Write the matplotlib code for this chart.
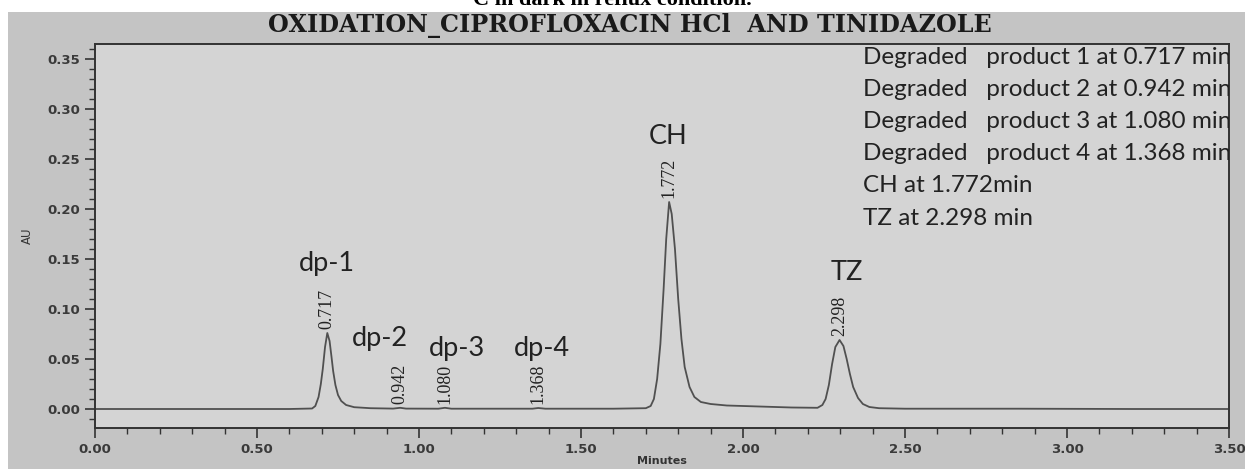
import numpy as np
import matplotlib.pyplot as plt
from matplotlib.patches import Rectangle
from matplotlib.ticker import MultipleLocator

# chromatogram trace (minutes, AU)
time_min = [0.00, 0.30, 0.60, 0.67, 0.680, 0.690, 0.697, 0.703, 0.710, 0.717,
            0.724, 0.730, 0.735, 0.742, 0.750, 0.760, 0.775, 0.80, 0.85, 0.92,
            0.942, 0.96, 1.06, 1.080, 1.10, 1.35, 1.368, 1.39, 1.60, 1.70,
            1.715, 1.725, 1.735, 1.745, 1.755, 1.763, 1.772, 1.780, 1.790, 1.800,
            1.810, 1.820, 1.835, 1.85, 1.87, 1.90, 1.95, 2.05, 2.15, 2.23,
            2.245, 2.255, 2.265, 2.275, 2.285, 2.298, 2.310, 2.320, 2.330, 2.340,
            2.355, 2.370, 2.39, 2.42, 2.50, 2.75, 2.85, 3.20, 3.50]
au = [0.0, 0.0, 0.0, 0.0005, 0.003, 0.012, 0.025, 0.040, 0.062, 0.076,
      0.068, 0.052, 0.038, 0.024, 0.014, 0.008, 0.004, 0.0018, 0.0008, 0.0004,
      0.0012, 0.0004, 0.0003, 0.0012, 0.0003, 0.0003, 0.0010, 0.0003, 0.0003, 0.0008,
      0.003, 0.010, 0.030, 0.065, 0.120, 0.170, 0.207, 0.195, 0.160, 0.110,
      0.070, 0.042, 0.022, 0.012, 0.007, 0.005, 0.0035, 0.0025, 0.0015, 0.0012,
      0.004, 0.010, 0.024, 0.045, 0.062, 0.069, 0.063, 0.050, 0.035, 0.022,
      0.011, 0.005, 0.002, 0.0008, 0.0003, 0.0003, 0.0003, 0.0, 0.0]

# peak labels
peak_rt = [0.717, 0.942, 1.080, 1.368, 1.772, 2.298]
peak_au = [0.076, 0.0012, 0.0012, 0.0010, 0.207, 0.069]
peak_names = ["dp-1", "dp-2", "dp-3", "dp-4", "CH", "TZ"]
# where the names sit (minutes, AU)
name_x = [0.716, 0.880, 1.117, 1.380, 1.769, 2.321]
name_y = [0.146, 0.071, 0.061, 0.061, 0.272, 0.136]

legend_lines = ["Degraded   product 1 at 0.717 min",
                "Degraded   product 2 at 0.942 min",
                "Degraded   product 3 at 1.080 min",
                "Degraded   product 4 at 1.368 min",
                "CH at 1.772min",
                "TZ at 2.298 min"]

W, H = 1245, 469
fig = plt.figure(figsize=(W / 100, H / 100), dpi=100)
fig.patch.set_facecolor("white")
fig.patches.append(Rectangle((8 / W, 0), 1, (H - 12) / H, transform=fig.transFigure,
                             facecolor="#c4c4c4", edgecolor="none", zorder=-10))

ax = fig.add_axes([95 / W, 1 - 428 / H, (1229 - 95) / W, (428 - 44) / H])
ax.set_facecolor("#d4d4d4")
ax.plot(time_min, au, color="#505050", lw=1.3)

ax.set_xlim(0, 3.5)
ax.set_ylim(-0.019, 0.365)
ax.xaxis.set_major_locator(MultipleLocator(0.5))
ax.xaxis.set_minor_locator(MultipleLocator(0.1))
ax.yaxis.set_major_locator(MultipleLocator(0.05))
ax.yaxis.set_minor_locator(MultipleLocator(0.01))
ax.xaxis.set_major_formatter(lambda v, p: f"{v:.2f}")
ax.yaxis.set_major_formatter(lambda v, p: f"{v:.2f}" if v > -0.005 else "")
ax.tick_params(which="major", direction="out", length=7, width=1.2, color="#333",
               labelsize=9.5, labelcolor="#3a3a3a")
ax.tick_params(which="minor", direction="out", length=4, width=1.0, color="#333")
for lab in ax.get_xticklabels() + ax.get_yticklabels():
    lab.set_fontweight("bold")
for s in ax.spines.values():
    s.set_color("#333")
    s.set_linewidth(1.4)

ax.set_xlabel("Minutes", fontsize=8, fontweight="bold", color="#333", labelpad=0)
ax.set_ylabel("AU", fontsize=8.5, color="#333", labelpad=10)

# retention time labels (rotated)
for rt, h in zip(peak_rt, peak_au):
    ax.annotate(f"{rt:.3f}", (rt, h), xytext=(0, 3), textcoords="offset points",
                rotation=90, ha="center", va="bottom", fontsize=13,
                family="Liberation Serif", color="#222")

for nm, x, y in zip(peak_names, name_x, name_y):
    ax.text(x, y, nm, ha="center", va="center", fontsize=19.5, family="Lato", color="#222")

for i, line in enumerate(legend_lines):
    ax.text(2.37, 0.352 - i * 0.0322, line, ha="left", va="center", fontsize=17.5,
            family="Lato", color="#222", clip_on=True)

fig.text(630 / W, 1 - 26 / H, "OXIDATION_CIPROFLOXACIN HCl  AND TINIDAZOLE",
         ha="center", va="center", fontsize=17.2, fontweight="bold",
         family="DejaVu Serif", color="#1a1a1a")
fig.text(612 / W, 1 - 5 / H, "C in dark in reflux condition.", ha="center",
         va="baseline", fontsize=16, fontweight="bold", family="Liberation Serif",
         color="black")

fig.savefig("out.png", dpi=100)
